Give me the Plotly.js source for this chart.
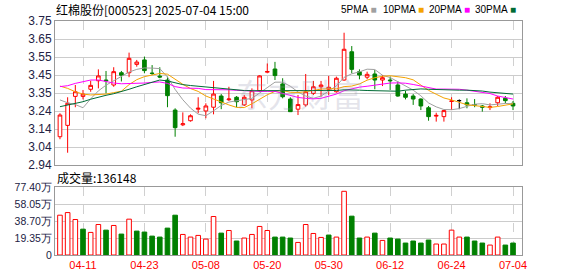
<!DOCTYPE html>
<html>
<head>
<meta charset="utf-8">
<script src="https://cdn.plot.ly/plotly-3.0.1.min.js"></script>
<style>
html,body{margin:0;padding:0;background:#fff;}
#chart{width:578px;height:276px;}
</style>
</head>
<body>
<div id="chart"></div>
<script>
// ---------- data ----------
var dates = ['04-08','04-09','04-10','04-11','04-14','04-15','04-16','04-17','04-18','04-21',
 '04-22','04-23','04-24','04-25','04-28','04-29','04-30','05-06','05-07','05-08',
 '05-09','05-12','05-13','05-14','05-15','05-16','05-19','05-20','05-21','05-22',
 '05-23','05-26','05-27','05-28','05-29','05-30','06-03','06-04','06-05','06-06',
 '06-09','06-10','06-11','06-12','06-13','06-16','06-17','06-18','06-19','06-20',
 '06-23','06-24','06-25','06-26','06-27','06-30','07-01','07-02','07-03','07-04'];

var openP = [3.099,3.163,3.326,3.326,3.366,3.414,3.418,3.390,3.459,3.459,
 3.506,3.531,3.457,3.440,3.418,3.249,3.166,3.189,3.254,3.244,
 3.265,3.328,3.307,3.321,3.278,3.306,3.358,3.462,3.480,3.396,
 3.311,3.254,3.278,3.343,3.380,3.366,3.352,3.418,3.577,3.465,
 3.434,3.452,3.418,3.418,3.390,3.339,3.328,3.311,3.262,3.215,
 3.212,3.298,3.302,3.290,3.280,3.272,3.263,3.290,3.315,3.287];
var highP = [3.231,3.321,3.390,3.362,3.414,3.478,3.469,3.490,3.469,3.572,
 3.531,3.550,3.502,3.490,3.437,3.259,3.236,3.225,3.321,3.287,
 3.413,3.339,3.380,3.328,3.334,3.371,3.445,3.511,3.520,3.428,
 3.321,3.334,3.452,3.413,3.413,3.441,3.437,3.684,3.609,3.478,
 3.465,3.474,3.446,3.437,3.410,3.358,3.339,3.315,3.272,3.234,
 3.249,3.321,3.309,3.315,3.311,3.278,3.287,3.328,3.328,3.300];
var lowP = [3.085,3.009,3.265,3.309,3.352,3.371,3.343,3.380,3.410,3.434,
 3.493,3.456,3.446,3.428,3.265,3.099,3.159,3.184,3.231,3.203,
 3.225,3.254,3.300,3.265,3.272,3.259,3.352,3.456,3.418,3.315,
 3.238,3.221,3.268,3.334,3.324,3.334,3.347,3.414,3.456,3.422,
 3.422,3.366,3.384,3.362,3.324,3.309,3.278,3.249,3.189,3.184,
 3.184,3.249,3.254,3.259,3.265,3.240,3.249,3.272,3.287,3.249];
var closeP = [3.221,3.287,3.352,3.339,3.388,3.441,3.414,3.465,3.445,3.540,
 3.519,3.471,3.455,3.435,3.330,3.150,3.172,3.217,3.259,3.272,
 3.339,3.290,3.311,3.296,3.321,3.358,3.441,3.466,3.443,3.324,
 3.240,3.280,3.352,3.380,3.390,3.377,3.428,3.591,3.478,3.446,
 3.450,3.418,3.431,3.414,3.328,3.321,3.311,3.272,3.212,3.219,
 3.246,3.300,3.302,3.278,3.277,3.265,3.267,3.321,3.302,3.272];

var volume = [453000,483000,404000,294000,257000,347000,283000,336000,238000,408000,
 272000,261000,215000,204000,306000,453000,234000,204000,223000,181000,
 438000,249000,279000,159000,193000,234000,325000,279000,204000,204000,
 193000,143000,347000,245000,200000,227000,204000,725000,442000,193000,
 204000,249000,166000,193000,181000,136000,159000,136000,170000,125000,
 125000,283000,204000,204000,159000,136000,113000,204000,113000,136148];

var ma5 = [3.306,3.290,3.280,3.262,3.312,3.357,3.389,3.413,3.438,3.463,
 3.478,3.486,3.485,3.482,3.435,3.365,3.307,3.260,3.226,3.217,
 3.245,3.275,3.294,3.302,3.311,3.315,3.345,3.376,3.406,3.406,
 3.383,3.351,3.328,3.315,3.328,3.356,3.385,3.433,3.453,3.464,
 3.479,3.477,3.445,3.432,3.408,3.382,3.361,3.329,3.289,3.267,
 3.252,3.251,3.257,3.270,3.282,3.285,3.278,3.282,3.286,3.285];
var ma10 = [3.384,3.371,3.352,3.339,3.334,3.335,3.339,3.347,3.355,3.392,
 3.420,3.437,3.447,3.455,3.451,3.420,3.394,3.370,3.354,3.328,
 3.310,3.292,3.278,3.264,3.263,3.284,3.310,3.335,3.354,3.359,
 3.349,3.348,3.352,3.361,3.367,3.369,3.368,3.381,3.384,3.396,
 3.417,3.431,3.439,3.442,3.436,3.431,3.419,3.387,3.360,3.338,
 3.317,3.306,3.293,3.279,3.274,3.269,3.264,3.269,3.278,3.284];
var ma20 = [3.381,3.386,3.399,3.410,3.418,3.418,3.409,3.401,3.397,3.397,
 3.399,3.401,3.405,3.407,3.399,3.381,3.373,3.371,3.371,3.364,
 3.365,3.365,3.363,3.360,3.357,3.353,3.354,3.354,3.354,3.343,
 3.330,3.320,3.315,3.312,3.315,3.326,3.339,3.358,3.369,3.378,
 3.383,3.390,3.396,3.401,3.402,3.400,3.393,3.384,3.372,3.367,
 3.367,3.368,3.366,3.361,3.355,3.350,3.342,3.328,3.319,3.311];
var ma30 = [3.268,3.276,3.285,3.296,3.310,3.322,3.332,3.341,3.352,3.366,
 3.380,3.394,3.406,3.418,3.413,3.401,3.392,3.387,3.383,3.379,
 3.374,3.369,3.364,3.361,3.359,3.358,3.358,3.358,3.358,3.359,
 3.359,3.359,3.359,3.360,3.360,3.358,3.359,3.363,3.364,3.361,
 3.359,3.357,3.356,3.355,3.355,3.361,3.366,3.368,3.366,3.364,
 3.361,3.362,3.361,3.361,3.359,3.356,3.350,3.346,3.341,3.339];

var priceTicks = [2.94,3.04125,3.1425,3.24375,3.345,3.44625,3.5475,3.64875,3.75];
var priceTickText = ['2.94','3.04','3.14','3.24','3.35','3.45','3.55','3.65','3.75'];
var volTicks = [0,193500,387000,580500,774000];
var volTickText = ['0','19.35万','38.70万','58.05万','77.40万'];
var dateTicks = ['04-11','04-23','05-08','05-20','05-30','06-12','06-24','07-04'];

var stockTitle = '红棉股份[000523] 2025-07-04 15:00';
var volLabel = '成交量:' + volume[volume.length-1];
var maNames = ['5PMA','10PMA','20PMA','30PMA'];

// ---------- styling ----------
var RED = '#ff0000', GREEN = '#008000';
var maColors = ['#a0a0a0','#f5a300','#ff00ff','#006b35'];
var W = 578, H = 276;
function px(x){return x/W;}
function py(y){return 1-y/H;}

// split flat (open==close) candles into a black trace
var mO=[],mH=[],mL=[],mC=[],bO=[],bH=[],bL=[],bC=[];
for (var i=0;i<dates.length;i++){
  if (openP[i]===closeP[i]){
    mO.push(null);mH.push(null);mL.push(null);mC.push(null);
    bO.push(openP[i]);bH.push(highP[i]);bL.push(lowP[i]);bC.push(closeP[i]);
  } else {
    mO.push(openP[i]);mH.push(highP[i]);mL.push(lowP[i]);mC.push(closeP[i]);
    bO.push(null);bH.push(null);bL.push(null);bC.push(null);
  }
}
var volFill=[], volLine=[];
for (var j=0;j<dates.length;j++){
  var up = j===0 ? closeP[j]>=openP[j] : closeP[j]>=closeP[j-1];
  volFill.push(up ? '#ffffff' : GREEN);
  volLine.push(up ? RED : GREEN);
}

var traces = [];
var maData = [ma5, ma10, ma20, ma30];
for (var k=0;k<4;k++){
  traces.push({type:'scatter', mode:'lines', x:dates, y:maData[k], xaxis:'x', yaxis:'y',
    line:{color:maColors[k], width:1}, hoverinfo:'skip'});
}
traces.push({type:'candlestick', x:dates, open:mO, high:mH, low:mL, close:mC, xaxis:'x', yaxis:'y',
  whiskerwidth:0, hoverinfo:'skip',
  increasing:{line:{color:RED,width:1}, fillcolor:'#ffffff'},
  decreasing:{line:{color:GREEN,width:1}, fillcolor:GREEN}});
traces.push({type:'candlestick', x:dates, open:bO, high:bH, low:bL, close:bC, xaxis:'x', yaxis:'y',
  whiskerwidth:0, hoverinfo:'skip',
  increasing:{line:{color:'#000000',width:1}, fillcolor:'#000000'},
  decreasing:{line:{color:'#000000',width:1}, fillcolor:'#000000'}});
traces.push({type:'bar', x:dates, y:volume, xaxis:'x2', yaxis:'y2', width:0.6,
  marker:{color:volFill, line:{color:volLine, width:1}}, hoverinfo:'skip'});

var xRange = [-0.646, 60.17];
var axisFont = {family:'Liberation Sans, Arial, sans-serif', size:12, color:'#222244'};
var common = {type:'category', range:xRange, tickvals:dateTicks, showgrid:true, gridcolor:'#d0d0d0',
  griddash:'dash', gridwidth:1, showline:true, mirror:true, linecolor:'#999999', linewidth:1,
  zeroline:false, fixedrange:true, ticks:'', domain:[px(55), px(522)]};

var layout = {
  width:W, height:H, margin:{l:0,r:0,t:0,b:0}, paper_bgcolor:'#ffffff', plot_bgcolor:'#ffffff',
  showlegend:false, boxgap:0.32, bargap:0.4,
  xaxis: Object.assign({}, common, {anchor:'y', showticklabels:false, rangeslider:{visible:false}}),
  xaxis2: Object.assign({}, common, {anchor:'y2', showticklabels:true, ticktext:dateTicks,
    tickfont:{family:'Liberation Sans, Arial, sans-serif', size:11, color:RED}}),
  yaxis: {domain:[py(165), py(21)], range:[2.94,3.75], tickvals:priceTicks, ticktext:priceTickText,
    showgrid:true, gridcolor:'#cccccc', gridwidth:1, showline:true, mirror:true, linecolor:'#999999',
    zeroline:false, fixedrange:true, ticks:'', tickfont:axisFont, anchor:'x'},
  yaxis2: {domain:[py(255), py(187)], range:[0,774000], tickvals:volTicks, ticktext:volTickText,
    showgrid:true, gridcolor:'#cccccc', gridwidth:1, showline:true, mirror:true, linecolor:'#999999',
    zeroline:false, fixedrange:true, ticks:'', anchor:'x2',
    tickfont:{family:'Liberation Sans, Arial, sans-serif', size:10.5, color:'#222244'}},
  annotations: [
    {xref:'paper', yref:'paper', x:px(300), y:py(93), text:'东方财富', showarrow:false,
     font:{family:'Noto Sans CJK SC', size:32, color:'rgba(150,150,175,0.25)'}, xanchor:'center', yanchor:'middle'},
    {xref:'paper', yref:'paper', x:px(54), y:py(9), text:stockTitle, showarrow:false,
     font:{family:'Noto Sans CJK SC', size:12, color:'#000000'}, xanchor:'left', yanchor:'middle'},
    {xref:'paper', yref:'paper', x:px(55), y:py(177), text:volLabel, showarrow:false,
     font:{family:'Noto Sans CJK SC', size:12, color:'#000000'}, xanchor:'left', yanchor:'middle'}
  ]
};
var legX = [339, 381, 427, 473];
for (var m=0;m<4;m++){
  layout.annotations.push({xref:'paper', yref:'paper', x:px(legX[m]), y:py(9), showarrow:false,
    xanchor:'left', yanchor:'middle',
    text: maNames[m] + ' <span style="color:' + maColors[m] + '">■</span>',
    font:{family:'Liberation Sans, Arial, sans-serif', size:10, color:'#000000'}});
}

Plotly.newPlot('chart', traces, layout, {staticPlot:true, displayModeBar:false});
</script>
</body>
</html>
